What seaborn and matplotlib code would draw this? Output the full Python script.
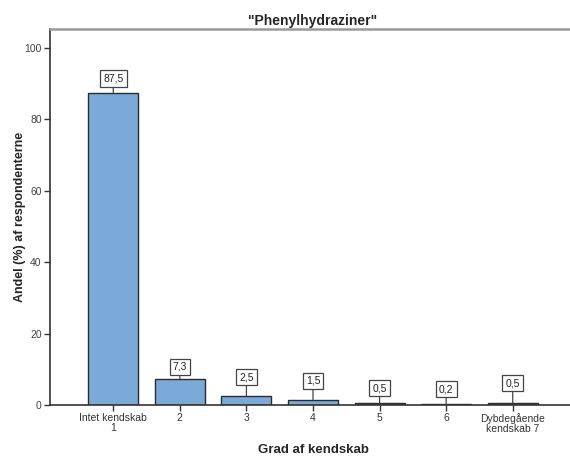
import matplotlib
matplotlib.use("Agg")
import matplotlib.pyplot as plt
import seaborn as sns
import pandas as pd

categories = ["Intet kendskab\n1", "2", "3", "4", "5", "6", "Dybdegående\nkendskab 7"]
values = [87.5, 7.3, 2.5, 1.5, 0.5, 0.2, 0.5]
value_labels = ["87,5", "7,3", "2,5", "1,5", "0,5", "0,2", "0,5"]
yticks = [0, 20, 40, 60, 80, 100]

sns.set_theme(style="white")
plt.rcParams['font.family'] = ['Liberation Sans', 'DejaVu Sans']

df = pd.DataFrame({"cat": categories, "val": values})

fig = plt.figure(figsize=(5.70, 4.57), dpi=100)
ax = fig.add_axes([50/570, (457-405)/457, 526/570, (405-29)/457])

sns.barplot(data=df, x="cat", y="val", color="#7BAAD8", saturation=1,
            edgecolor="#2b2b2b", linewidth=1.0, width=0.75, ax=ax)

ax.set_xlim(-0.95, 6.95)
ax.set_ylim(0, 105.3)
ax.set_yticks(yticks)
ax.set_yticklabels([str(t) for t in yticks], fontsize=7.5, color="#444444")
ax.set_xticks(range(len(categories)))
ax.set_xticklabels(categories, fontsize=7.5, color="#333333", linespacing=1.0)
ax.tick_params(axis="both", direction="out", length=4, width=1, color="#333333", pad=2)
ax.tick_params(axis="x", bottom=True)
ax.tick_params(axis="y", left=True)

for s in ["left", "bottom"]:
    ax.spines[s].set_color("#333333")
    ax.spines[s].set_linewidth(1.2)
ax.spines["top"].set_color("#9a9a9a")
ax.spines["top"].set_linewidth(1.8)
ax.spines["right"].set_visible(False)

ax.set_xlabel("Grad af kendskab", fontsize=9.5, fontweight="bold", labelpad=7)
ax.set_ylabel("Andel (%) af respondenterne", fontsize=9, fontweight="bold")
ax.yaxis.set_label_coords(-0.045, 0.5)
ax.set_title('"Phenylhydraziner"', fontsize=10, fontweight="bold", pad=3)

# label offsets (pixels above bar top)
offsets_px = [14, 12, 19, 19, 15, 15, 20]
for i, (v, lab, off) in enumerate(zip(values, value_labels, offsets_px)):
    ax.annotate(lab, xy=(i, v), xytext=(0, off * 0.72),
                textcoords="offset points", ha="center", va="center",
                fontsize=7.5, color="#222222",
                bbox=dict(boxstyle="square,pad=0.3", fc="white", ec="#444444", lw=0.9),
                arrowprops=dict(arrowstyle="-", color="#444444", lw=0.9,
                                shrinkA=0, shrinkB=0))

fig.savefig("out.png", dpi=100)
